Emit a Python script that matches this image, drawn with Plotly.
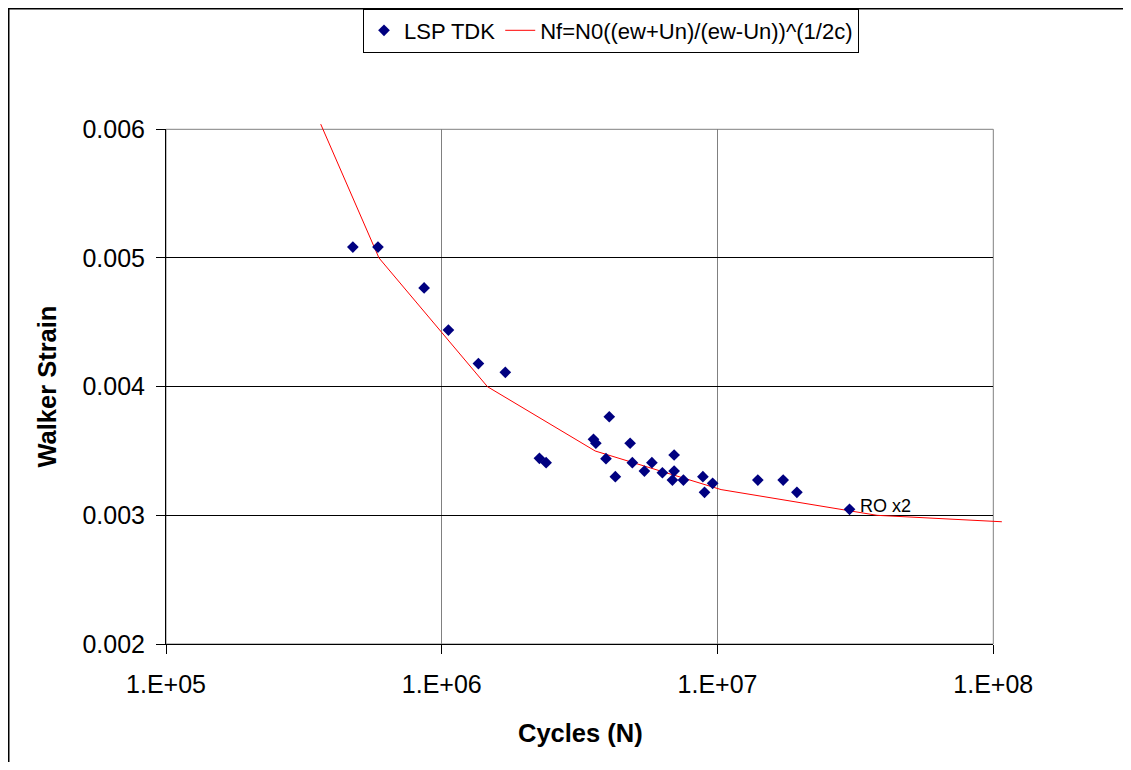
import math
import plotly.graph_objects as go

# ---- data ----
cycles = [4.76e5, 5.87e5, 8.63e5, 1.057e6, 1.358e6, 1.70e6, 2.26e6, 2.39e6,
          3.55e6, 3.62e6, 3.94e6, 4.05e6, 4.26e6, 4.82e6, 4.91e6, 5.43e6,
          5.78e6, 6.31e6, 6.96e6, 6.96e6, 6.86e6, 7.52e6, 8.85e6, 8.97e6,
          9.6e6, 1.40e7, 1.73e7, 1.94e7, 3.01e7]
strain = [0.005085, 0.005085, 0.004767, 0.00444, 0.004179, 0.004111, 0.003443, 0.003409,
          0.003591, 0.00356, 0.00344, 0.003766, 0.0033, 0.00356, 0.003409, 0.003344,
          0.003409, 0.003331, 0.003469, 0.003344, 0.003274, 0.003274, 0.0033, 0.003179,
          0.003249, 0.003274, 0.003274, 0.003179, 0.003047]

fit_cycles = [3.64e5, 5.92e5, 1.464e6, 3.6e6, 1.03e7, 3.79e7, 1.074e8]
fit_strain = [0.00604, 0.005, 0.004, 0.0035, 0.0032, 0.003, 0.00295]

x_tick_vals = [1e5, 1e6, 1e7, 1e8]
x_tick_text = ["1.E+05", "1.E+06", "1.E+07", "1.E+08"]
y_tick_vals = [0.002, 0.003, 0.004, 0.005, 0.006]
y_tick_text = ["0.002", "0.003", "0.004", "0.005", "0.006"]

series_name = "LSP TDK"
fit_name = "Nf=N0((ew+Un)/(ew-Un))^(1/2c)"
point_label = "RO x2"

# ---- layout geometry (figure pixels; page adds an 8px body margin) ----
W, H = 1115, 754
ML, MT, MR, MB = 158, 102, 110, 118
area_w = W - ML - MR          # 847
area_h = H - MT - MB          # 534
plot_w = 827.3
plot_h = 514.7
dec_px = plot_w / 3.0
unit_px = plot_h / 0.004
bottom_px = H - MB            # y of plot bottom in figure px

x_main_dom = [0, plot_w / area_w]
y_main_dom = [0, plot_h / area_h]
x2_range = [5, 5 + area_w / dec_px]
y2_range = [0.002, 0.002 + area_h / unit_px]


def px_x(p):
    return (p - ML) / area_w


def px_y(p):
    return (bottom_px - p) / area_h


FONT = "Liberation Sans, Arial, sans-serif"

fig = go.Figure()

fig.add_trace(go.Scatter(
    x=fit_cycles, y=fit_strain, mode="lines", name=fit_name,
    line=dict(color="#FF0000", width=1),
    xaxis="x2", yaxis="y2", legendrank=2,
))
fig.add_trace(go.Scatter(
    x=cycles, y=strain, mode="markers", name=series_name,
    marker=dict(symbol="diamond", size=9, color="#000080", line=dict(width=0)),
    xaxis="x2", yaxis="y2", legendrank=1,
))

fig.update_layout(
    width=W, height=H,
    margin=dict(l=ML, r=MR, t=MT, b=MB, pad=0, autoexpand=False),
    paper_bgcolor="white", plot_bgcolor="rgba(0,0,0,0)",
    font=dict(family=FONT, color="black"),
    showlegend=True,
    legend=dict(
        orientation="h", x=px_x(603), y=px_y(0.5),
        xanchor="center", yanchor="top",
        bordercolor="black", borderwidth=1, bgcolor="white",
        font=dict(size=22, family=FONT, color="black"),
        itemwidth=30, tracegroupgap=0,
    ),
    xaxis=dict(
        type="log", range=[5, 8], domain=x_main_dom,
        tickvals=x_tick_vals, ticktext=x_tick_text,
        tickfont=dict(size=25, family=FONT, color="black"),
        ticks="outside", ticklen=9, tickcolor="black", tickwidth=1,
        ticklabelstandoff=9,
        showgrid=True, gridcolor="#808080", gridwidth=1,
        showline=True, linecolor="black", linewidth=1,
        zeroline=False, anchor="y",
    ),
    yaxis=dict(
        range=[0.002, 0.006], domain=y_main_dom,
        tickvals=y_tick_vals, ticktext=y_tick_text,
        tickfont=dict(size=25, family=FONT, color="black"),
        ticks="outside", ticklen=9, tickcolor="black", tickwidth=1,
        ticklabelstandoff=6,
        showgrid=True, gridcolor="black", gridwidth=1,
        showline=True, linecolor="black", linewidth=1,
        zeroline=False, anchor="x",
    ),
    xaxis2=dict(
        type="log", range=x2_range, domain=[0, 1],
        visible=False, anchor="y2", showgrid=False,
    ),
    yaxis2=dict(
        range=y2_range, domain=[0, 1],
        visible=False, anchor="x2", showgrid=False,
    ),
    shapes=[
        # plot-area border (gray)
        dict(type="rect", xref="x domain", yref="y domain", x0=0, x1=1, y0=0, y1=1,
             line=dict(color="#808080", width=1), layer="below"),
        # outer chart border (left & top visible)
        dict(type="rect", xref="paper", yref="paper",
             x0=px_x(0.75), x1=px_x(W + 20),
             y0=px_y(H + 20), y1=px_y(0.75),
             line=dict(color="black", width=1.5), layer="below"),
    ],
    annotations=[
        dict(x=px_x(572), y=px_y(725), xref="paper", yref="paper",
             text="<b>Cycles (N)</b>", showarrow=False, xanchor="center", yanchor="middle",
             font=dict(size=25.5, family=FONT, color="black")),
        dict(x=px_x(39), y=px_y(378.6), xref="paper", yref="paper",
             text="<b>Walker Strain</b>", showarrow=False, textangle=-90,
             xanchor="center", yanchor="middle",
             font=dict(size=25.5, family=FONT, color="black")),
        dict(x=math.log10(cycles[-1]), y=strain[-1], xref="x", yref="y",
             text=point_label, showarrow=False, xanchor="left", yanchor="middle",
             xshift=8, yshift=3, font=dict(size=18, family=FONT, color="black")),
    ],
)

fig.write_html("out.html")
